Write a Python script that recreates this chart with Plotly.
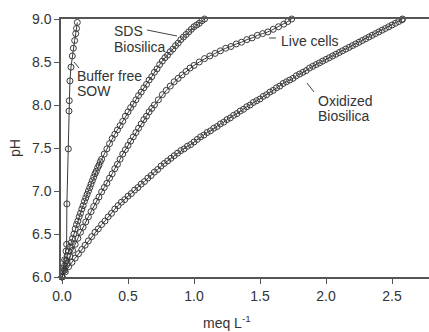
import plotly.graph_objects as go

# ---- data ----
sow_x = [0.0, 0.01, 0.02, 0.03, 0.035, 0.037, 0.048, 0.053, 0.055, 0.06, 0.068, 0.078, 0.086, 0.096, 0.104, 0.11, 0.116]
sow_ph = [6.0, 6.1, 6.2, 6.3, 6.38, 6.85, 7.49, 7.93, 8.05, 8.28, 8.44, 8.57, 8.66, 8.75, 8.83, 8.89, 8.96]

sds_x = [0.00, 0.01, 0.02, 0.03, 0.04, 0.05, 0.06, 0.07, 0.08, 0.09, 0.10, 0.11, 0.12, 0.13, 0.14, 0.15,
         0.16, 0.17, 0.18, 0.19, 0.20, 0.21, 0.22, 0.23, 0.24, 0.25, 0.26, 0.27, 0.28, 0.29, 0.30, 0.32,
         0.34, 0.36, 0.38, 0.40, 0.42, 0.44, 0.46, 0.48, 0.50, 0.52, 0.54, 0.56, 0.58, 0.60, 0.62, 0.64,
         0.66, 0.68, 0.70, 0.72, 0.74, 0.76, 0.78, 0.80, 0.82, 0.84, 0.86, 0.88, 0.90, 0.92, 0.94, 0.96,
         0.98, 1.00, 1.02, 1.04, 1.06, 1.08]
sds_ph = [6.00, 6.07, 6.13, 6.19, 6.25, 6.30, 6.35, 6.40, 6.45, 6.50, 6.56, 6.61, 6.65, 6.70, 6.74, 6.79,
          6.83, 6.88, 6.92, 6.96, 7.00, 7.04, 7.08, 7.12, 7.16, 7.20, 7.23, 7.27, 7.30, 7.34, 7.37, 7.43,
          7.49, 7.55, 7.61, 7.66, 7.71, 7.76, 7.81, 7.87, 7.92, 7.97, 8.01, 8.06, 8.11, 8.15, 8.20, 8.24,
          8.29, 8.33, 8.38, 8.42, 8.47, 8.51, 8.55, 8.58, 8.62, 8.65, 8.69, 8.72, 8.76, 8.79, 8.82, 8.85,
          8.88, 8.91, 8.93, 8.95, 8.98, 9.00]

live_x = [0.00, 0.02, 0.04, 0.06, 0.08, 0.10, 0.12, 0.14, 0.16, 0.18, 0.20, 0.22, 0.24, 0.26, 0.28, 0.30,
          0.32, 0.34, 0.36, 0.38, 0.40, 0.42, 0.44, 0.46, 0.48, 0.50, 0.52, 0.54, 0.56, 0.58, 0.60, 0.62,
          0.64, 0.66, 0.68, 0.70, 0.73, 0.76, 0.79, 0.82, 0.85, 0.88, 0.91, 0.94, 0.97, 1.00, 1.04, 1.08,
          1.12, 1.16, 1.20, 1.24, 1.28, 1.32, 1.36, 1.40, 1.44, 1.48, 1.52, 1.56, 1.60, 1.64, 1.68, 1.71, 1.74]
live_ph = [6.00, 6.08, 6.16, 6.24, 6.31, 6.38, 6.45, 6.52, 6.58, 6.64, 6.70, 6.76, 6.82, 6.88, 6.93, 6.99,
           7.04, 7.09, 7.15, 7.20, 7.26, 7.31, 7.37, 7.43, 7.48, 7.53, 7.58, 7.63, 7.68, 7.73, 7.78, 7.83,
           7.87, 7.92, 7.96, 8.00, 8.06, 8.12, 8.17, 8.22, 8.27, 8.31, 8.35, 8.39, 8.43, 8.46, 8.50, 8.54,
           8.57, 8.60, 8.63, 8.66, 8.68, 8.71, 8.73, 8.76, 8.78, 8.81, 8.83, 8.85, 8.88, 8.91, 8.94, 8.97, 9.00]

ox_x = [0.000, 0.025, 0.050, 0.075, 0.100, 0.125, 0.150, 0.175, 0.200, 0.225, 0.250, 0.275, 0.300, 0.325,
        0.350, 0.375, 0.400, 0.425, 0.450, 0.475, 0.500, 0.525, 0.550, 0.575, 0.600, 0.625, 0.650, 0.675,
        0.700, 0.725, 0.750, 0.775, 0.800, 0.825, 0.850, 0.875, 0.900, 0.925, 0.950, 0.975, 1.000, 1.025,
        1.050, 1.075, 1.100, 1.125, 1.150, 1.175, 1.200, 1.225, 1.250, 1.275, 1.300, 1.325, 1.350, 1.375,
        1.400, 1.425, 1.450, 1.475, 1.500, 1.525, 1.550, 1.575, 1.600, 1.625, 1.650, 1.675, 1.700, 1.725,
        1.750, 1.775, 1.800, 1.825, 1.850, 1.875, 1.900, 1.925, 1.950, 1.975, 2.000, 2.025, 2.050, 2.075,
        2.100, 2.125, 2.150, 2.175, 2.200, 2.225, 2.250, 2.275, 2.300, 2.325, 2.350, 2.375, 2.400, 2.425,
        2.450, 2.475, 2.500, 2.525, 2.550, 2.575, 2.580]
ox_ph = [6.00, 6.06, 6.12, 6.17, 6.22, 6.27, 6.32, 6.37, 6.42, 6.47, 6.52, 6.56, 6.61, 6.65,
         6.70, 6.74, 6.79, 6.83, 6.87, 6.90, 6.94, 6.97, 7.01, 7.04, 7.08, 7.11, 7.15, 7.18,
         7.22, 7.25, 7.29, 7.32, 7.35, 7.38, 7.41, 7.44, 7.47, 7.49, 7.52, 7.54, 7.57, 7.60,
         7.63, 7.65, 7.68, 7.70, 7.73, 7.75, 7.78, 7.80, 7.83, 7.85, 7.88, 7.90, 7.93, 7.95,
         7.98, 8.00, 8.03, 8.05, 8.07, 8.10, 8.12, 8.15, 8.17, 8.20, 8.22, 8.25, 8.27, 8.29,
         8.31, 8.34, 8.36, 8.38, 8.40, 8.43, 8.45, 8.47, 8.49, 8.51, 8.53, 8.55, 8.57, 8.59,
         8.61, 8.63, 8.65, 8.67, 8.69, 8.71, 8.73, 8.75, 8.77, 8.79, 8.81, 8.83, 8.85, 8.87,
         8.89, 8.91, 8.93, 8.95, 8.97, 8.99, 9.00]

x_ticks = [0.0, 0.5, 1.0, 1.5, 2.0, 2.5]
y_ticks = [6.0, 6.5, 7.0, 7.5, 8.0, 8.5, 9.0]

# ---- styling ----
INK = "#3a3a3a"
AXC = "#555555"
FONT = "Liberation Sans, Arial, sans-serif"

# pixel -> data helpers for annotation placement
def px_x(p):
    return (p - 62) / 132.0

def px_y(p):
    return 6 + (277 - p) / 86.0

fig = go.Figure()
for xs, ys in [(ox_x, ox_ph), (live_x, live_ph), (sds_x, sds_ph), (sow_x, sow_ph)]:
    fig.add_trace(go.Scatter(
        x=xs, y=ys, mode="lines+markers", cliponaxis=False,
        line=dict(color=INK, width=1),
        marker=dict(symbol="circle-open", size=6, color=INK, line=dict(width=1, color=INK)),
        showlegend=False, hoverinfo="skip"))

labels = [
    ("SDS", 112, 31), ("Biosilica", 112, 47),
    ("Buffer free", 75, 76), ("SOW", 75, 91),
    ("Live cells", 279, 41),
    ("Oxidized", 316, 101), ("Biosilica", 316, 116),
]
for txt, lx, ly in labels:
    fig.add_annotation(x=px_x(lx), y=px_y(ly), text=txt, showarrow=False,
                       xanchor="left", yanchor="middle", xref="x", yref="y",
                       font=dict(family=FONT, size=14, color="#333333"))

# x-axis title (centred where the reference has it)
fig.add_annotation(x=px_x(227), y=(277 - 322) / 258.0, xref="x", yref="paper",
                   text="meq L<sup>-1</sup>", showarrow=False, xanchor="center", yanchor="middle",
                   font=dict(family=FONT, size=14, color="#333333"))

leaders = [((147, 30), (177, 36)), ((74, 62), (79, 68)), ((269, 38), (276, 38)), ((307, 83), (314, 92))]
for (x0, y0), (x1, y1) in leaders:
    fig.add_shape(type="line", xref="x", yref="y",
                  x0=px_x(x0), y0=px_y(y0), x1=px_x(x1), y1=px_y(y1),
                  line=dict(color="#444444", width=1))

fig.update_layout(
    width=429, height=332,
    margin=dict(l=61, r=0, t=19, b=55),
    plot_bgcolor="white", paper_bgcolor="white",
    font=dict(family=FONT, size=14, color="#333333"),
)
fig.update_xaxes(
    range=[-1 / 132.0, 367 / 132.0], tickvals=x_ticks, ticktext=[f"{v:.1f}" for v in x_ticks],
    showgrid=False, zeroline=False, showline=True, linecolor=AXC, linewidth=1.5, mirror=True,
    ticks="outside", ticklen=5, tickcolor=AXC, tickwidth=1,
)
fig.update_yaxes(
    range=[6, 9], tickvals=y_ticks, ticktext=[f"{v:.1f}" for v in y_ticks],
    showgrid=False, zeroline=False, showline=True, linecolor=AXC, linewidth=1.5,
    ticks="outside", ticklen=5, tickcolor=AXC, tickwidth=1,
    title=dict(text="pH", font=dict(size=14), standoff=8),
)

fig.write_html("out.html", config={"displayModeBar": False},
               post_script="document.body.style.margin='0px';")
